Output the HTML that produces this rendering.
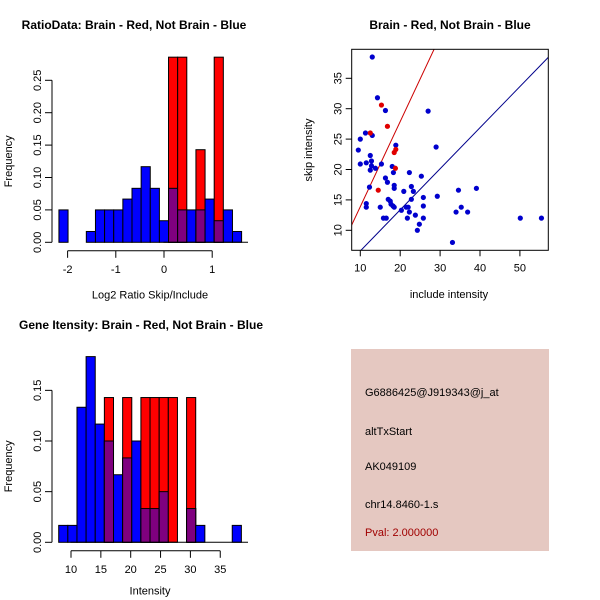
<!DOCTYPE html>
<html><head><meta charset="utf-8"><style>
html,body{margin:0;padding:0;background:#fff}
svg{display:block;font-family:"Liberation Sans",sans-serif}
</style></head><body>
<svg id="s" width="600" height="600" viewBox="0 0 600 600">
<rect width="600" height="600" fill="#fff"/>
<text x="134" y="29" font-size="12" font-weight="bold" text-anchor="middle">RatioData: Brain - Red, Not Brain - Blue</text>
<text x="450" y="29" font-size="12" font-weight="bold" text-anchor="middle">Brain - Red, Not Brain - Blue</text>
<text x="141" y="329" font-size="12" font-weight="bold" text-anchor="middle">Gene Itensity: Brain - Red, Not Brain - Blue</text>
<rect x="351" y="349" width="198" height="202" fill="#e5c8c1"/>
<g font-size="11">
<text x="365" y="396">G6886425@J919343@j_at</text>
<text x="365" y="435">altTxStart</text>
<text x="365" y="470">AK049109</text>
<text x="365" y="508">chr14.8460-1.s</text>
<text x="365" y="536" fill="#a00000">Pval: 2.000000</text>
</g>
</svg>
<script>
// ---- Histogram 1 data ----
const h1Start = -2.18, h1Width = 0.1895;
const h1Blue = [0.05,0,0,0.0167,0.05,0.05,0.05,0.0667,0.0833,0.1167,0.0833,0.0333,0.0833,0.05,0.05,0.05,0.0667,0.0333,0.05,0.0167];
const h1Red  = [0,0,0,0,0,0,0,0,0,0,0,0,0.2857,0.2857,0,0.1429,0,0.2857,0,0];
const h1XTicks = [-2,-1,0,1];
const h1YTicks = [0,0.05,0.10,0.15,0.20,0.25];
const h1YLabels = ["0.00","0.05","0.10","0.15","0.20","0.25"];
// ---- Histogram 2 data ----
const h2Start = 7.94, h2Width = 1.53;
const h2Blue = [0.0167,0.0167,0.1333,0.1833,0.1167,0.1,0.0667,0.0833,0.1,0.0333,0.0333,0.05,0,0,0.0333,0.0167,0,0,0,0.0167];
const h2Red  = [0,0,0,0,0,0.1429,0,0.1429,0,0.1429,0.1429,0.1429,0.1429,0,0.1429,0,0,0,0,0];
const h2XTicks = [10,15,20,25,30,35];
const h2YTicks = [0,0.05,0.10,0.15];
const h2YLabels = ["0.00","0.05","0.10","0.15"];
// ---- Scatter data ----
const blueX = [13.0,14.3,16.3,27.0,11.3,10.0,13.0,9.5,18.9,29.0,12.5,12.8,11.5,10,12.8,13.8,15.3,12.5,18.0,18.3,22.3,25.3,16.3,16.8,12.3,18.5,18.5,22.8,20.9,23.3,25.8,29.3,34.6,39.1,17.0,17.5,22.8,11.5,17.7,18.2,11.5,15.0,18.5,21.5,22.0,25.8,35.3,20.3,22.3,34.0,36.9,23.8,15.8,16.5,21.8,25.8,50.1,55.4,24.8,24.3,33.1];
const blueY = [38.5,31.8,29.7,29.6,26.0,25.0,25.6,23.2,24.0,23.7,22.3,21.4,21.1,20.9,20.6,20.2,20.9,19.9,20.5,19.5,19.5,18.9,18.6,17.9,17.1,17.4,16.9,17.2,16.4,16.4,15.4,15.6,16.6,16.9,15.1,14.8,15.1,14.4,14.3,14.0,13.8,13.8,13.8,13.8,13.8,14.0,13.8,13.3,13.0,13.0,13.0,12.5,12.0,12.0,12.0,12.0,12.0,12.0,11.0,10.0,8.0];
const redX = [15.3,16.8,12.5,18.9,18.5,18.8,14.5];
const redY = [30.6,27.1,26.0,23.3,22.8,20.2,16.6];
const redLine = [1.40,-0.11];
const blueLine = [0.676,-0.16];
const scXTicks = [10,20,30,40,50];
const scYTicks = [10,15,20,25,30,35];

const NS="http://www.w3.org/2000/svg", S=document.getElementById('s');
function el(t,a,p){const e=document.createElementNS(NS,t);for(const k in a)e.setAttribute(k,a[k]);(p||S).appendChild(e);return e;}
function txt(x,y,s,a,p){const e=el('text',Object.assign({x:x,y:y,'font-size':11},a||{}),p);e.textContent=s;return e;}

function hist(opt){
  const g=el('g',{});
  
  
  const X=v=>opt.x0+(v-opt.v0)*opt.kx, Y=v=>opt.y0-v*opt.ky;
  for(let i=0;i<opt.blue.length;i++){
    const a=X(opt.start+i*opt.w), b=X(opt.start+(i+1)*opt.w);
    const bl=opt.blue[i], rd=opt.red[i];
    if(bl>0){const r=el('rect',{x:a,y:Y(bl),width:b-a,height:Y(0)-Y(bl),fill:'#0000ff',stroke:'#000','stroke-width':1},g);
      
      }
    if(rd>0){const r=el('rect',{x:a,y:Y(rd),width:b-a,height:Y(0)-Y(rd),fill:'#ff0000',stroke:'#000','stroke-width':1},g);
      
      
      const m=Math.min(bl,rd);
      if(m>0){const o=el('rect',{x:a,y:Y(m),width:b-a,height:Y(0)-Y(m),fill:'#7f007f',stroke:'#000','stroke-width':1},g);
        
        }}
  }
  el('line',{x1:opt.x0-0.5,x2:248,y1:Y(0),y2:Y(0),stroke:'#000'},g);
  const yt=opt.yTicks;
  el('line',{x1:52,x2:52,y1:Y(yt[0]),y2:Y(yt[yt.length-1]),stroke:'#000'},g);
  yt.forEach((v,i)=>{el('line',{x1:45,x2:52,y1:Y(v),y2:Y(v),stroke:'#000'},g);
    txt(0,0,opt.yLabels[i],{transform:`translate(41,${Y(v)}) rotate(-90)`,'text-anchor':'middle'},g);});
  const xt=opt.xTicks, ay=Y(0)+8.5;
  el('line',{x1:X(xt[0]),x2:X(xt[xt.length-1]),y1:ay,y2:ay,stroke:'#000'},g);
  xt.forEach(v=>{el('line',{x1:X(v),x2:X(v),y1:ay,y2:ay+7,stroke:'#000'},g);
    txt(X(v),ay+22,String(v),{'text-anchor':'middle'},g);});
  txt(150,Y(0)+opt.labOff,opt.xlab,{'text-anchor':'middle'},g);
  txt(0,0,'Frequency',{transform:`translate(12,${(Y(0)+Y(yt[yt.length-1]))/2}) rotate(-90)`,'text-anchor':'middle'},g);
}
hist({name:'ratio-histogram',x0:164,v0:0,kx:48.2,y0:242.3,ky:648,start:h1Start,w:h1Width,blue:h1Blue,red:h1Red,xTicks:h1XTicks,yTicks:h1YTicks,yLabels:h1YLabels,xlab:'Log2 Ratio Skip/Include',labOff:56});
hist({name:'intensity-histogram',x0:71,v0:10,kx:5.97,y0:542.3,ky:1013,start:h2Start,w:h2Width,blue:h2Blue,red:h2Red,xTicks:h2XTicks,yTicks:h2YTicks,yLabels:h2YLabels,xlab:'Intensity',labOff:52});

(function(){
  const g=el('g',{});
  
  
  const L=351.7,R=548.3,T=49.3,B=250.3;
  const X=v=>360.3+(v-10)*3.99, Y=v=>230.3-(v-10)*6.08;
  const cp=el('clipPath',{id:'cp'},g); el('rect',{x:L,y:T,width:R-L,height:B-T},cp);
  const lg=el('g',{'clip-path':'url(#cp)'},g);
  const ln=(c,col,nm)=>{const x1=0,x2=70;const l=el('line',{x1:X(x1),y1:Y(c[0]*x1+c[1]),x2:X(x2),y2:Y(c[0]*x2+c[1]),stroke:col,'stroke-width':1},lg);
    
    };
  ln(redLine,'#cc0000','red-fit-line'); ln(blueLine,'#00008b','blue-fit-line');
  blueX.forEach((x,i)=>{const c=el('circle',{cx:X(x),cy:Y(blueY[i]),r:2.6,fill:'#0000cd'},g);
    
    });
  redX.forEach((x,i)=>{const c=el('circle',{cx:X(x),cy:Y(redY[i]),r:2.6,fill:'#e00000'},g);
    
    });
  el('rect',{x:L,y:T,width:R-L,height:B-T,fill:'none',stroke:'#000'},g);
  scXTicks.forEach(v=>{el('line',{x1:X(v),x2:X(v),y1:B,y2:B+6,stroke:'#000'},g);txt(X(v),B+21,String(v),{'text-anchor':'middle'},g);});
  scYTicks.forEach(v=>{el('line',{x1:L-6,x2:L,y1:Y(v),y2:Y(v),stroke:'#000'},g);
    txt(0,0,String(v),{transform:`translate(${L-10},${Y(v)}) rotate(-90)`,'text-anchor':'middle'},g);});
  txt(449,298,'include intensity',{'text-anchor':'middle'},g);
  txt(0,0,'skip intensity',{transform:`translate(312,150) rotate(-90)`,'text-anchor':'middle'},g);
})();
</script>
</body></html>
